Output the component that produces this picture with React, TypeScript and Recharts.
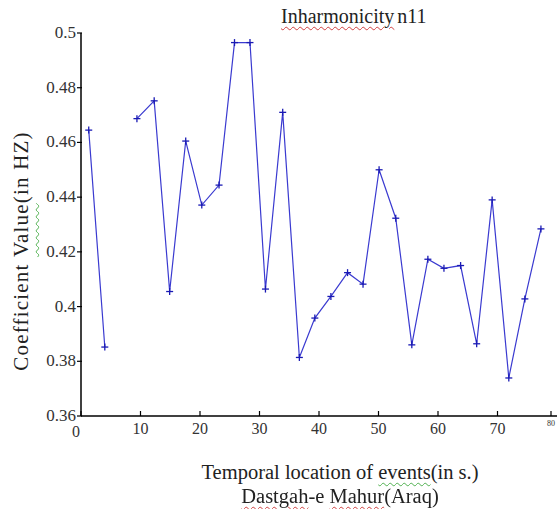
import React from "react";
import { LineChart, Line, XAxis, YAxis } from "recharts";

const times = [1.3, 4.0, 6.7, 9.4, 12.3, 14.9, 17.6, 20.3, 23.2, 25.8, 28.4, 31.0, 33.9, 36.7, 39.3, 42.0, 44.8, 47.4, 50.1, 52.9, 55.6, 58.3, 61.0, 63.8, 66.5, 69.1, 71.9, 74.6, 77.3];
const coefficients: (number | null)[] = [0.4645, 0.3852, null, 0.4687, 0.4752, 0.4055, 0.4605, 0.4371, 0.4444, 0.4965, 0.4965, 0.4064, 0.471, 0.3814, 0.3958, 0.4037, 0.4124, 0.4082, 0.45, 0.4323, 0.386, 0.4173, 0.414, 0.415, 0.3864, 0.439, 0.3739, 0.4028, 0.4284];
const xTicks = [0, 10, 20, 30, 40, 50, 60, 70, 80];
const yTicks = [0.36, 0.38, 0.4, 0.42, 0.44, 0.46, 0.48, 0.5];

const data = times.map((t, i) => ({ t, v: coefficients[i] }));

const FONT = "'Liberation Serif', 'Times New Roman', serif";
const LINE = "#3a3ad0";

const PlusDot = (props: any) => {
  const { cx, cy, value } = props;
  if (value == null || cx == null || cy == null) return null;
  return (
    <g stroke="#1a1ab4" strokeWidth={1.3}>
      <line x1={cx - 3.5} x2={cx + 3.5} y1={cy} y2={cy} />
      <line x1={cx} x2={cx} y1={cy - 3.5} y2={cy + 3.5} />
    </g>
  );
};

const XTick = (props: any) => {
  const { x, y, payload } = props;
  const v = payload.value;
  const small = v === 80;
  return (
    <g>
      <line x1={x} x2={x} y1={y - 6} y2={y - 11} stroke="#000" strokeWidth={1.2} />
      <text
        x={v === 0 ? x - 5 : x}
        y={small ? y + 4 : v === 0 ? y + 15 : y + 12}
        textAnchor="middle"
        style={{ fontFamily: FONT, fontSize: small ? 8 : 16 }}
        fill="#333"
      >
        {v}
      </text>
    </g>
  );
};

const YTick = (props: any) => {
  const { x, y, payload } = props;
  return (
    <g>
      <line x1={x + 1} x2={x + 6} y1={y} y2={y} stroke="#000" strokeWidth={1.2} />
      <text x={x} y={y + 5} textAnchor="end" style={{ fontFamily: FONT, fontSize: 17 }} fill="#333">
        {String(Number(payload.value.toFixed(2)))}
      </text>
    </g>
  );
};

const wavy = (c: string): React.CSSProperties => ({
  textDecoration: "underline wavy " + c,
  textDecorationThickness: 1,
  textUnderlineOffset: 3,
});

export default function App() {
  return (
    <div style={{ position: "fixed", left: 0, top: 0, width: 559, height: 509, background: "#fff", fontFamily: FONT, color: "#222" }}>
      <LineChart
        width={559}
        height={509}
        data={data}
        margin={{ top: 33, right: 2, bottom: 63, left: 0 }}
      >
        <XAxis
          type="number"
          dataKey="t"
          domain={[0, 80]}
          ticks={xTicks}
          height={30}
          tickSize={0}
          tickMargin={6}
          tickLine={false}
          axisLine={{ stroke: "#000", strokeWidth: 1.5 }}
          tick={<XTick />}
        />
        <YAxis
          type="number"
          domain={[0.36, 0.5]}
          ticks={yTicks}
          width={81}
          tickSize={0}
          tickMargin={5}
          tickLine={false}
          axisLine={{ stroke: "#000", strokeWidth: 1.5 }}
          tick={<YTick />}
        />
        <Line
          type="linear"
          dataKey="v"
          stroke={LINE}
          strokeWidth={1.2}
          dot={<PlusDot />}
          activeDot={false}
          connectNulls={false}
          isAnimationActive={false}
        />
      </LineChart>
      <div style={{ position: "absolute", left: 281, top: 5, fontSize: 20, wordSpacing: -2, whiteSpace: "nowrap" }}>
        <span style={wavy("#d04040")}>Inharmonicity</span> n11
      </div>
      <div
        style={{
          position: "absolute",
          left: 21,
          top: 251,
          fontSize: 21,
          letterSpacing: 1.2,
          whiteSpace: "nowrap",
          writingMode: "vertical-rl",
          transform: "translate(-50%, -50%) rotate(180deg)",
        }}
      >
        Coefficient <span style={wavy("#50b050")}>Value</span>(in HZ)
      </div>
      <div style={{ position: "absolute", left: 340, top: 461, fontSize: 20.5, whiteSpace: "nowrap", transform: "translateX(-50%)" }}>
        Temporal location of <span style={wavy("#50b050")}>events</span>(in s.)
      </div>
      <div style={{ position: "absolute", left: 340, top: 485, fontSize: 20.5, whiteSpace: "nowrap", transform: "translateX(-50%)" }}>
        <span style={wavy("#d04040")}>Dastgah</span>-e <span style={wavy("#d04040")}>Mahur</span>(Araq)
      </div>
    </div>
  );
}
